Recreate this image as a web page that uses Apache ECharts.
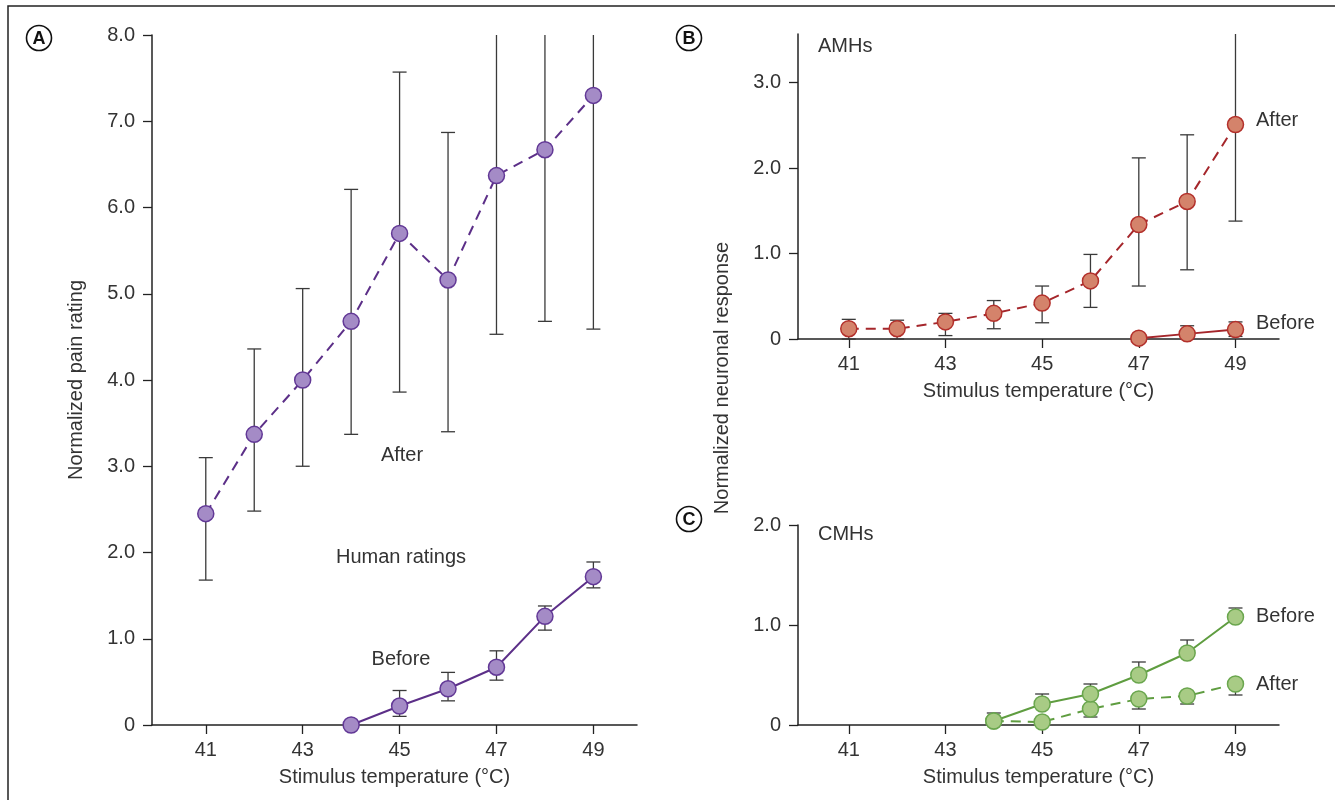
<!DOCTYPE html>
<html><head><meta charset="utf-8">
<script src="https://cdn.jsdelivr.net/npm/echarts@6/dist/echarts.min.js"></script>
<style>html,body{margin:0;padding:0;background:#fff}#c{width:1335px;height:800px}</style>
</head><body><div id="c"></div><script>
// ---------- data ----------
const tempTicks = [41, 43, 45, 47, 49];
const tempsAfter = [41, 42, 43, 44, 45, 46, 47, 48, 49];
// Panel A: human pain ratings
const painAfter     = [2.45, 3.37, 4.00, 4.68, 5.70, 5.16, 6.37, 6.67, 7.30];
const painAfterLow  = [1.68, 2.48, 3.00, 3.37, 3.86, 3.40, 4.53, 4.68, 4.59];
const painAfterHigh = [3.10, 4.36, 5.06, 6.21, 7.57, 6.87, 8.00, 8.00, 8.00];
const tempsPainBefore = [44, 45, 46, 47, 48, 49];
const painBefore     = [0.00, 0.22, 0.42, 0.67, 1.26, 1.72];
const painBeforeLow  = [null, 0.10, 0.28, 0.52, 1.10, 1.59];
const painBeforeHigh = [null, 0.40, 0.61, 0.86, 1.38, 1.89];
// Panel B: AMHs
const amhAfter     = [0.12, 0.12, 0.20, 0.30, 0.42, 0.68, 1.34, 1.61, 2.51];
const amhAfterLow  = [0.00, 0.00, 0.04, 0.12, 0.19, 0.37, 0.62, 0.81, 1.38];
const amhAfterHigh = [0.23, 0.22, 0.30, 0.45, 0.62, 0.99, 2.12, 2.39, 3.57];
const tempsAmhBefore = [47, 48, 49];
const amhBefore     = [0.01, 0.06, 0.11];
const amhBeforeLow  = [null, 0.00, 0.03];
const amhBeforeHigh = [null, 0.155, 0.20];
// Panel C: CMHs
const tempsCmh = [44, 45, 46, 47, 48, 49];
const cmhBefore     = [0.04, 0.21, 0.31, 0.50, 0.72, 1.08];
const cmhBeforeHigh = [0.12, 0.31, 0.41, 0.63, 0.85, 1.17];
const cmhAfter      = [0.04, 0.03, 0.16, 0.26, 0.29, 0.41];
const cmhAfterLow   = [null, null, 0.08, 0.16, 0.21, 0.30];

// ---------- helpers ----------
const FONT = '"Liberation Sans", Arial, sans-serif';
const TXT = '#333';
const AX = '#222';
const zip = (xs, ys) => xs.map((x, i) => [x, ys[i]]);

function errData(xs, vals, lows, highs, yMax) {
  return xs.map((x, i) => {
    const lo = lows && lows[i] != null ? lows[i] : vals[i];
    const hi = highs && highs[i] != null ? highs[i] : vals[i];
    const capLo = lows && lows[i] != null ? 1 : 0;
    const capHi = highs && highs[i] != null && hi < yMax ? 1 : 0;
    return [x, lo, hi, capLo, capHi];
  });
}
function errSeries(gi, data) {
  return {
    type: 'custom', xAxisIndex: gi, yAxisIndex: gi, z: 1, silent: true,
    renderItem: function (params, api) {
      const x = api.value(0), lo = api.value(1), hi = api.value(2);
      const pLo = api.coord([x, lo]), pHi = api.coord([x, hi]);
      const st = { stroke: '#3a3a3a', lineWidth: 1.3 };
      const ch = [];
      if (Math.abs(pLo[1] - pHi[1]) > 0.5)
        ch.push({ type: 'line', shape: { x1: pLo[0], y1: pLo[1], x2: pHi[0], y2: pHi[1] }, style: st });
      const w = 7;
      if (api.value(3)) ch.push({ type: 'line', shape: { x1: pLo[0] - w, y1: pLo[1], x2: pLo[0] + w, y2: pLo[1] }, style: st });
      if (api.value(4)) ch.push({ type: 'line', shape: { x1: pHi[0] - w, y1: pHi[1], x2: pHi[0] + w, y2: pHi[1] }, style: st });
      return { type: 'group', children: ch };
    },
    data: data
  };
}
function lineSeries(gi, data, colors, dashed) {
  return {
    type: 'line', xAxisIndex: gi, yAxisIndex: gi, data: data, z: 3, clip: false,
    symbol: 'circle', symbolSize: 16, showAllSymbol: true,
    lineStyle: { color: colors.line, width: 2, type: dashed ? [10, 7] : 'solid' },
    itemStyle: { color: colors.fill, borderColor: colors.border, borderWidth: 1.5 },
    emphasis: { disabled: true }
  };
}
function xAxis(gi, min, max) {
  return {
    type: 'value', gridIndex: gi, min: min, max: max,
    splitLine: { show: false },
    axisLine: { show: true, onZero: false, lineStyle: { color: AX, width: 1.5 } },
    axisTick: { show: true, customValues: tempTicks, length: 9, lineStyle: { color: AX, width: 1.3 } },
    axisLabel: { customValues: tempTicks, fontSize: 20, color: TXT, margin: 15, fontFamily: FONT },
    name: 'Stimulus temperature (°C)', nameLocation: 'middle', nameGap: 42,
    nameTextStyle: { fontSize: 20, color: TXT, fontFamily: FONT }
  };
}
const fmt = v => v === 0 ? '0' : v.toFixed(1);
function yAxis(gi, max, ticks, name) {
  const a = {
    type: 'value', gridIndex: gi, min: 0, max: max,
    splitLine: { show: false },
    axisLine: { show: true, onZero: false, lineStyle: { color: AX, width: 1.5 } },
    axisTick: { show: true, customValues: ticks, length: 9, lineStyle: { color: AX, width: 1.3 } },
    axisLabel: { customValues: ticks, formatter: fmt, fontSize: 20, color: TXT, margin: 17, fontFamily: FONT }
  };
  if (name) {
    a.name = name; a.nameLocation = 'middle'; a.nameGap = 66;
    a.nameTextStyle = { fontSize: 20, color: TXT, fontFamily: FONT };
  }
  return a;
}

const purple = { line: '#5c2f88', fill: '#a48bc6', border: '#623896' };
const red = { line: '#a5262b', fill: '#d4836b', border: '#b3302b' };
const green = { line: '#5f9d40', fill: '#a8cb85', border: '#6aa64e' };

const yTicksA = [0, 1, 2, 3, 4, 5, 6, 7, 8];
const yTicksB = [0, 1, 2, 3];
const yTicksC = [0, 1, 2];

function txt(x, y, s, align, extra) {
  return Object.assign({ type: 'text', x: x, y: y, silent: true,
    style: { text: s, fontSize: 20, fontFamily: FONT, fill: TXT, align: align || 'center', verticalAlign: 'middle' } }, extra || {});
}
function circ(cx, cy, letter) {
  return [
    { type: 'circle', shape: { cx: cx, cy: cy, r: 12.5 }, style: { fill: '#fff', stroke: '#111', lineWidth: 1.6 }, silent: true },
    { type: 'text', x: cx, y: cy + 1, silent: true, style: { text: letter, fontSize: 18, fontWeight: 'bold', fontFamily: FONT, fill: '#111', align: 'center', verticalAlign: 'middle' } }
  ];
}

const chart = echarts.init(document.getElementById('c'), null, { renderer: 'canvas' });
chart.setOption({
  animation: false,
  backgroundColor: '#fff',
  grid: [
    { left: 152, top: 35, width: 485, height: 690 },
    { left: 798, top: 34, width: 481, height: 305 },
    { left: 798, top: 525, width: 481, height: 200 }
  ],
  xAxis: [xAxis(0, 39.89, 49.9), xAxis(1, 39.95, 49.9), xAxis(2, 39.95, 49.9)],
  yAxis: [yAxis(0, 8, yTicksA, 'Normalized pain rating'), yAxis(1, 3.57, yTicksB), yAxis(2, 2, yTicksC)],
  series: [
    errSeries(0, errData(tempsAfter, painAfter, painAfterLow, painAfterHigh, 8)),
    errSeries(0, errData(tempsPainBefore, painBefore, painBeforeLow, painBeforeHigh, 8)),
    lineSeries(0, zip(tempsAfter, painAfter), purple, true),
    lineSeries(0, zip(tempsPainBefore, painBefore), purple, false),
    errSeries(1, errData(tempsAfter, amhAfter, amhAfterLow, amhAfterHigh, 3.57)),
    errSeries(1, errData(tempsAmhBefore, amhBefore, amhBeforeLow, amhBeforeHigh, 3.57)),
    lineSeries(1, zip(tempsAfter, amhAfter), red, true),
    lineSeries(1, zip(tempsAmhBefore, amhBefore), red, false),
    errSeries(2, errData(tempsCmh, cmhBefore, null, cmhBeforeHigh, 2)),
    errSeries(2, errData(tempsCmh, cmhAfter, cmhAfterLow, null, 2)),
    lineSeries(2, zip(tempsCmh, cmhAfter), green, true),
    lineSeries(2, zip(tempsCmh, cmhBefore), green, false)
  ],
  graphic: [
    { type: 'rect', shape: { x: 8, y: 6, width: 1400, height: 900 }, style: { fill: 'none', stroke: '#222', lineWidth: 1.5 }, silent: true, z: -10 },
    ...circ(39, 38, 'A'), ...circ(689, 38, 'B'), ...circ(689, 519, 'C'),
    txt(402, 455, 'After'), txt(401, 557, 'Human ratings'), txt(401, 659, 'Before'),
    txt(818, 46, 'AMHs', 'left'), txt(1256, 120, 'After', 'left'), txt(1256, 323, 'Before', 'left'),
    txt(818, 534, 'CMHs', 'left'), txt(1256, 616, 'Before', 'left'), txt(1256, 684, 'After', 'left'),
    txt(722, 378, 'Normalized neuronal response', 'center', { rotation: Math.PI / 2 })
  ]
});
</script></body></html>
